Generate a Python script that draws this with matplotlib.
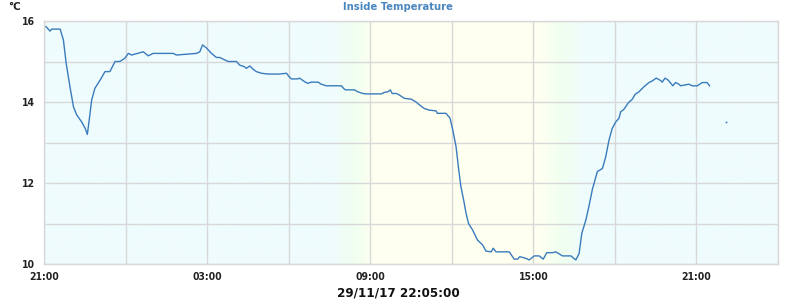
import numpy as np
import matplotlib
matplotlib.use('Agg')
import matplotlib.pyplot as plt
from matplotlib.colors import to_rgb

# heures écoulées depuis 21:00 (jour précédent) et température intérieure (°C)
hours = [0.06, 0.21, 0.27, 0.58, 0.70, 0.80, 0.94, 1.07, 1.19, 1.37, 1.50, 1.58,
         1.65, 1.74, 1.86, 2.05, 2.23, 2.41, 2.60, 2.78, 2.96, 3.09, 3.21, 3.64,
         3.82, 4.00, 4.74, 4.86, 5.60, 5.72, 5.82, 5.97, 6.15, 6.33, 6.45, 6.64,
         6.76, 7.07, 7.19, 7.37, 7.43, 7.56, 7.68, 7.80, 7.99, 8.23, 8.66, 8.91,
         9.00, 9.09, 9.33, 9.39, 9.58, 9.70, 9.82, 10.07, 10.19, 10.37, 10.93, 11.05,
         11.11, 11.41, 11.54, 11.72, 11.84, 12.40, 12.52, 12.64, 12.73, 12.80, 12.95, 13.07,
         13.25, 13.50, 13.68, 13.80, 13.98, 14.16, 14.42, 14.46, 14.78, 14.93, 15.03, 15.15,
         15.25, 15.33, 15.43, 15.52, 15.61, 15.76, 15.94, 16.13, 16.25, 16.44, 16.52, 16.62,
         17.11, 17.29, 17.41, 17.50, 17.72, 17.84, 18.03, 18.21, 18.36, 18.49, 18.70, 18.82,
         19.07, 19.38, 19.56, 19.68, 19.78, 19.93, 20.05, 20.17, 20.23, 20.35, 20.54, 20.66,
         20.78, 20.90, 21.03, 21.15, 21.21, 21.33, 21.49, 21.64, 21.74, 21.88, 22.07, 22.25,
         22.37, 22.52, 22.68, 22.74, 22.84, 22.96, 23.13, 23.23, 23.35, 23.42, 23.72, 23.84,
         24.03, 24.21, 24.39, 24.48]
temps = [15.86, 15.75, 15.80, 15.80, 15.53, 14.96, 14.38, 13.88, 13.68, 13.51, 13.35, 13.20,
         13.56, 14.05, 14.34, 14.54, 14.75, 14.75, 15.00, 15.00, 15.08, 15.20, 15.16, 15.24,
         15.14, 15.20, 15.20, 15.16, 15.20, 15.24, 15.41, 15.33, 15.20, 15.10, 15.10, 15.04,
         15.00, 15.00, 14.91, 14.87, 14.83, 14.89, 14.81, 14.75, 14.71, 14.69, 14.69, 14.71,
         14.63, 14.57, 14.57, 14.59, 14.50, 14.46, 14.49, 14.49, 14.44, 14.40, 14.40, 14.31,
         14.30, 14.30, 14.25, 14.21, 14.20, 14.20, 14.24, 14.25, 14.30, 14.21, 14.21, 14.17,
         14.09, 14.07, 14.00, 13.93, 13.84, 13.80, 13.78, 13.72, 13.72, 13.60, 13.31, 12.90,
         12.32, 11.91, 11.58, 11.25, 11.00, 10.84, 10.59, 10.47, 10.32, 10.30, 10.39, 10.30,
         10.30, 10.12, 10.12, 10.18, 10.14, 10.10, 10.20, 10.20, 10.12, 10.28, 10.28, 10.30,
         10.20, 10.20, 10.10, 10.26, 10.76, 11.09, 11.45, 11.85, 11.99, 12.28, 12.36, 12.65,
         13.06, 13.35, 13.51, 13.60, 13.76, 13.82, 13.98, 14.07, 14.19, 14.25, 14.38, 14.48,
         14.52, 14.59, 14.53, 14.49, 14.59, 14.54, 14.40, 14.48, 14.44, 14.40, 14.44, 14.40,
         14.40, 14.48, 14.48, 14.40]
# point isolé après une coupure
lone_hour = [25.07]
lone_temp = [13.5]

xticks = [0, 6, 12, 18, 24]
xtick_labels = ['21:00', '03:00', '09:00', '15:00', '21:00']
yticks = [10, 12, 14, 16]

night = to_rgb('#effcfd')
dawn = to_rgb('#f0fff0')
day = to_rgb('#fffff0')

fig = plt.figure(figsize=(8, 3), dpi=100)
ax = fig.add_axes([0.0555, 0.12, 0.917, 0.81])

# fond jour / nuit en dégradé
xs = np.linspace(0, 27, 600)
keys = [0, 10.6, 11.4, 12.2, 18.2, 19.1, 19.95, 27]
cols = [night, night, dawn, day, day, dawn, night, night]
img = np.zeros((1, len(xs), 3))
for c in range(3):
    img[0, :, c] = np.interp(xs, keys, [k[c] for k in cols])
ax.imshow(img, extent=[0, 27, 10, 16], aspect='auto', zorder=0, interpolation='bilinear')

ax.plot(hours, temps, color='#3a7bbd', lw=1.0, zorder=3)
ax.plot(lone_hour, lone_temp, 's', color='#3a7bbd', ms=1.2, mew=0, zorder=3)

ax.set_xlim(0, 27)
ax.set_ylim(10, 16)
ax.set_xticks(xticks)
ax.set_xticklabels(xtick_labels)
ax.set_xticks(np.arange(0, 27.1, 3), minor=True)
ax.set_yticks(yticks)
ax.set_yticks(np.arange(10, 16.1, 1), minor=True)
ax.grid(True, which='both', color='#d8d8d8', lw=1, zorder=1)
ax.set_axisbelow(False)
for s in ax.spines.values():
    s.set_color('#d8d8d8')
    s.set_linewidth(1)
ax.tick_params(which='both', length=0)
ax.tick_params(axis='x', pad=6)
ax.tick_params(axis='y', pad=7)
for lab in ax.get_xticklabels() + ax.get_yticklabels():
    lab.set_fontsize(7.5)
    lab.set_fontweight('bold')
    lab.set_fontstretch('condensed')
    lab.set_color('#222222')

fig.text(0.4975, 0.975, 'Inside Temperature', ha='center', va='center',
         fontsize=8, fontweight='bold', fontstretch='condensed', color='#4a86bf')
fig.text(0.01, 0.975, '°C', ha='left', va='center', fontsize=7.5,
         fontweight='bold', color='#222222')
fig.text(0.4975, 0.023, '29/11/17 22:05:00', ha='center', va='center',
         fontsize=9.5, fontweight='bold', fontstretch='condensed', color='#111111')

fig.savefig('out.png', dpi=100)
